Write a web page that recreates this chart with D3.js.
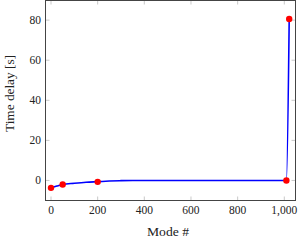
<!DOCTYPE html>
<html><head><meta charset="utf-8">
<script src="https://cdn.jsdelivr.net/npm/d3@7"></script>
<style>body{margin:0;background:#fff}svg{display:block}text{font-family:"Liberation Serif","DejaVu Serif",serif;fill:#222}</style>
</head><body><svg id="c" width="302" height="240"></svg>
<script>
const lineModes = [0, 25, 50, 100, 150, 200, 250, 300, 350, 400, 600, 800, 1000, 1009, 1021];
const lineDelay = [-3.7, -2.8, -2.0, -1.4, -0.9, -0.6, -0.3, -0.1, 0, 0, 0, 0, 0, 0, 80.6];
const markerModes = [0, 50, 200, 1009, 1021];
const markerDelay = [-3.7, -2.0, -0.7, 0, 80.6];
const xTicks = [0, 200, 400, 600, 800, 1000];
const yTicks = [0, 20, 40, 60, 80];

const svg = d3.select("#c");
const L = 45.5, R = 295.5, T = 0.5, B = 200.5;
const x = d3.scaleLinear().domain([-23.6, 1048]).range([L, R]);
const y = d3.scaleLinear().domain([-10, 89.8]).range([B, T]);

const fmt = d3.format(",");
const g = svg.append("g");
xTicks.forEach(t => {
  g.append("line").attr("x1", x(t)).attr("x2", x(t)).attr("y1", B).attr("y2", B - 4).attr("stroke", "#bbb").attr("stroke-width", 0.8);
  g.append("line").attr("x1", x(t)).attr("x2", x(t)).attr("y1", T).attr("y2", T + 4).attr("stroke", "#bbb").attr("stroke-width", 0.8);
  svg.append("text").attr("x", x(t)).attr("y", 214).attr("text-anchor", "middle").attr("font-size", 11.5).text(fmt(t));
});
yTicks.forEach(t => {
  g.append("line").attr("x1", L).attr("x2", L + 4).attr("y1", y(t)).attr("y2", y(t)).attr("stroke", "#bbb").attr("stroke-width", 0.8);
  g.append("line").attr("x1", R).attr("x2", R - 4).attr("y1", y(t)).attr("y2", y(t)).attr("stroke", "#bbb").attr("stroke-width", 0.8);
  svg.append("text").attr("x", 41).attr("y", y(t) + 4).attr("text-anchor", "end").attr("font-size", 11.5).text(t);
});

const lineData = lineModes.map((m, i) => [m, lineDelay[i]]);
svg.append("path").datum(lineData)
  .attr("d", d3.line().x(d => x(d[0])).y(d => y(d[1])).curve(d3.curveMonotoneX))
  .attr("fill", "none").attr("stroke", "#0000ff").attr("stroke-width", 1.6);

svg.selectAll("circle.m").data(markerModes.map((m, i) => [m, markerDelay[i]])).enter()
  .append("circle").attr("cx", d => x(d[0])).attr("cy", d => y(d[1])).attr("r", 3.2).attr("fill", "#ff0000");

svg.append("rect").attr("x", L).attr("y", T).attr("width", R - L).attr("height", B - T)
  .attr("fill", "none").attr("stroke", "#444").attr("stroke-width", 1);

svg.append("text").attr("x", 168).attr("y", 235.5).attr("text-anchor", "middle").attr("font-size", 12)
  .attr("textLength", 42).attr("lengthAdjust", "spacingAndGlyphs").text("Mode #");
svg.append("text").attr("transform", "translate(13.5,93.5) rotate(-90)").attr("text-anchor", "middle").attr("font-size", 12)
  .attr("textLength", 77).attr("lengthAdjust", "spacingAndGlyphs").text("Time delay [s]");
</script></body></html>
